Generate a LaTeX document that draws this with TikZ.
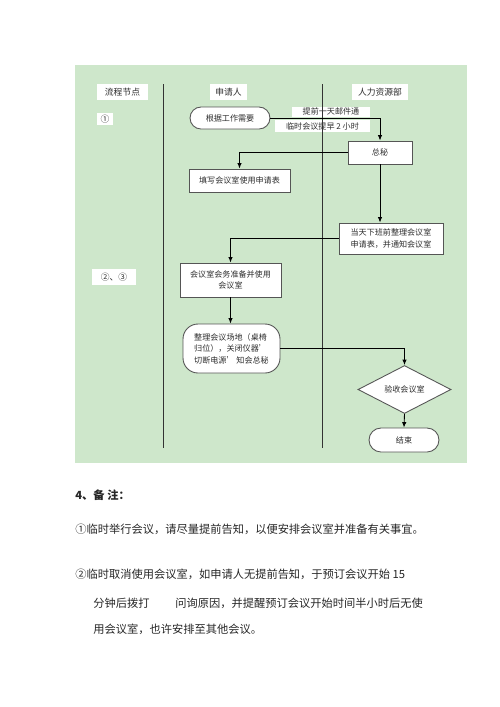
\documentclass[tikz,border=0pt]{standalone}
\usepackage{fontspec}
\setmainfont{Noto Sans CJK SC}
\usepackage{xcolor}
\usepackage{tikz}
\usetikzlibrary{shapes.geometric, arrows.meta}

\definecolor{lanegreen}{RGB}{206,231,203}
\definecolor{boxline}{RGB}{85,85,85}
\definecolor{flowtext}{RGB}{45,45,45}

\begin{document}
\begin{tikzpicture}[
    x=0.02cm, y=-0.02cm,
    block/.style={rectangle, draw=boxline, fill=white, line width=0.5pt, text=flowtext, font=\fontsize{4.6}{6.6}\selectfont, align=center, inner sep=1pt},
    terminal/.style={block, rounded corners=0.22cm},
    decision/.style={diamond, draw=boxline, fill=white, line width=0.5pt, text=flowtext, font=\fontsize{4.6}{6.6}\selectfont, inner sep=0pt},
    header/.style={rectangle, fill=white, text=flowtext, font=\fontsize{5}{6}\selectfont, inner sep=0pt, minimum height=0.32cm},
    label/.style={rectangle, fill=white, text=flowtext, font=\fontsize{4.6}{5.5}\selectfont, inner sep=0pt, minimum height=0.2cm},
    arrow/.style={-{Latex[length=1.1mm, width=0.9mm]}, line width=0.5pt},
    lane/.style={line width=0.5pt, black!80},
    note/.style={anchor=west, inner sep=0pt, font=\fontsize{6.4}{8}\selectfont, text=black!85}
]
    \useasboundingbox (0,0) rectangle (500,707);
    \fill[lanegreen] (75,65) rectangle (467,463);

    % Labels
    \node[label, minimum width=1.56cm] (lab1) at (331,111.5) {提前一天邮件通};
    \node[label, minimum width=1.9cm, minimum height=0.24cm] (lab2) at (322.5,126) {临时会议提早 2 小时};

    % Lanes
    \draw[lane] (163,84) -- (163,448);
    \draw[lane] (322,84) -- (322,448);

    % Nodes
    \node[header, minimum width=1.02cm] (liucheng) at (122.5,92) {流程节点};
    \node[header, minimum width=0.74cm] (shenqing) at (228.5,92) {申请人};
    \node[header, minimum width=1.12cm] (renli) at (380,92) {人力资源部};
    \node[header, minimum width=0.32cm, minimum height=0.24cm] (step1) at (105,119) {①};
    \node[header, minimum width=0.88cm] (step23) at (114,277) {②、③};

    \node[terminal, minimum width=1.6cm, minimum height=0.44cm] (start) at (230,118) {根据工作需要};
    \node[block, minimum width=1.28cm, minimum height=0.46cm] (zongmi) at (380,152.5) {总秘};
    \node[block, minimum width=2.02cm, minimum height=0.46cm] (tianxie) at (239.5,180.5) {填写会议室使用申请表};
    \node[block, minimum width=2.08cm, minimum height=0.62cm] (dangtian) at (391,238.5) {当天下班前整理会议室\\申请表，并通知会议室};
    \node[block, minimum width=2.02cm, minimum height=0.68cm] (zhunbei) at (230.5,280) {会议室会务准备并使用\\会议室};
    \node[block, rounded corners=0.3cm, align=left, minimum width=1.94cm, minimum height=0.98cm] (qingli) at (231.5,348.5) {整理会议场地（桌椅\\归位），关闭仪器’\\切断电源’ 知会总秘};
    \node[decision, minimum width=1.86cm, minimum height=0.86cm] (yanshou) at (404.5,389.5) {验收会议室};
    \node[terminal, rounded corners=0.24cm, minimum width=1.4cm, minimum height=0.48cm] (jieshu) at (404,440) {结束};

    % Arrows
    \draw[arrow] (start.east) -| (zongmi.north);
    \draw[arrow] (zongmi.west) -| (tianxie.north);
    \draw[arrow] (zongmi.south) -- (zongmi.south |- dangtian.north);
    \draw[arrow] (dangtian.west) -| (zhunbei.north);
    \draw[arrow] (zhunbei.south) -- (zhunbei.south |- qingli.north);
    \draw[arrow] (qingli.east) -| (yanshou.north);
    \draw[arrow] (yanshou.south) -- (jieshu.north);

    % Notes
    \node[note, font=\fontsize{6.4}{8}\selectfont\bfseries] (remark) at (75,495) {4、备\ 注：};
    \node[note] (note1) at (75,529) {①临时举行会议，请尽量提前告知，以便安排会议室并准备有关事宜。};
    \node[note] (note2) at (75,574) {②临时取消使用会议室，如申请人无提前告知，于预订会议开始 15};
    \node[note] (note3) at (93,603) {分钟后拨打\hspace{2.3em}问询原因，并提醒预订会议开始时间半小时后无使};
    \node[note] (note4) at (93,629) {用会议室，也许安排至其他会议。};
\end{tikzpicture}
\end{document}
